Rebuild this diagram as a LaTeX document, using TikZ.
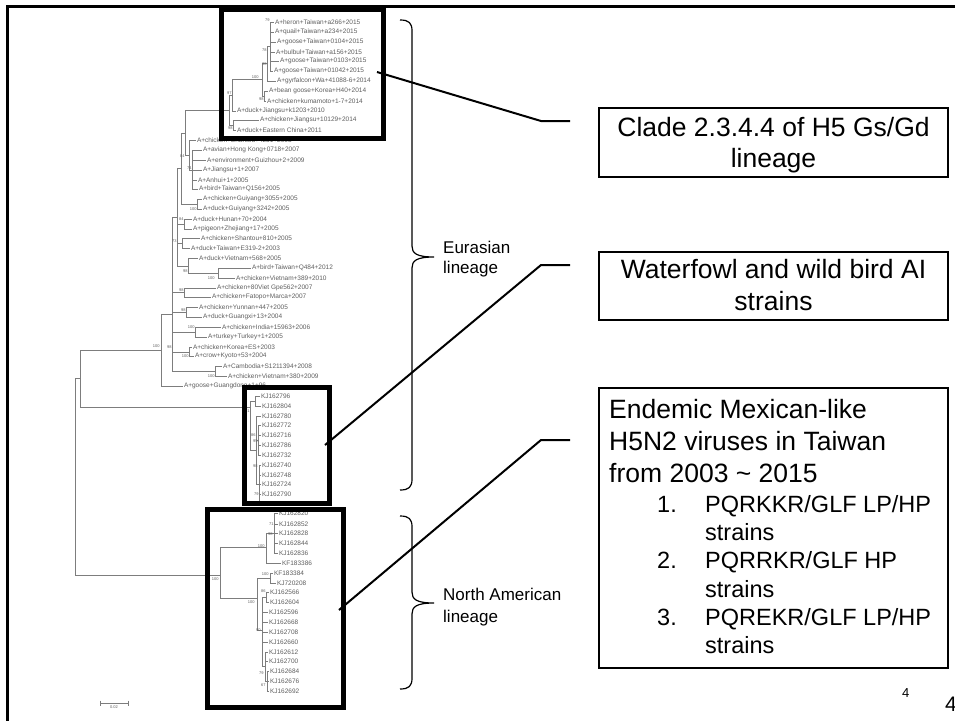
\documentclass[tikz,border=0pt]{standalone}
\usepackage{fontspec}
\setmainfont{Liberation Sans}
\definecolor{treegray}{RGB}{125,125,125}
\definecolor{labgray}{RGB}{95,95,95}
\newcommand{\tleaf}[5]{\draw[br] (#2,#1) -- (#3,#1) node[lbl] (#4) {#5};}
\newcommand{\tvert}[3]{\draw[br] (#1,#2) -- (#1,#3);}
\newcommand{\thor}[3]{\draw[br] (#2,#1) -- (#3,#1);}
\newcommand{\tboot}[4]{\node[bs] (#1) at (#2,#3) {#4};}
\begin{document}
\begin{tikzpicture}[x=1pt,y=-1pt,
  br/.style={draw=treegray, line width=0.9pt},
  lbl/.style={anchor=west, inner sep=0pt, outer sep=0pt, xshift=1pt, font=\fontsize{6.5}{7.5}\selectfont, text=labgray},
  bs/.style={anchor=south east, inner sep=0.3pt, font=\fontsize{4}{4}\selectfont, text=labgray},
  frame/.style={draw=black, line width=5pt},
  tbox/.style={draw=black, line width=2pt, inner sep=0pt, minimum width=349pt},
  conn/.style={draw=black, line width=2pt},
  bracestyle/.style={draw=black, line width=1.2pt},
  big/.style={font=\fontsize{26.5}{31}\selectfont, anchor=base, inner sep=0pt},
  bigw/.style={font=\fontsize{26.5}{31}\selectfont, anchor=base west, inner sep=0pt},
  item/.style={font=\fontsize{23.5}{28}\selectfont, anchor=base west, inner sep=0pt},
  side/.style={font=\fontsize{17}{20}\selectfont, anchor=base west, inner sep=0pt}
]
\useasboundingbox (0,0) rectangle (955,720);
\fill[white] (0,0) rectangle (955,720);

% ---------------- tree: clade 2.3.4.4 ----------------
\tvert{270}{22}{71}
\tleaf{22}{270}{274}{l0}{A+heron+Taiwan+a266+2015}
\tleaf{32}{270}{274}{l1}{A+quail+Taiwan+a234+2015}
\tleaf{42}{270}{276}{l2}{A+goose+Taiwan+0104+2015}
\tleaf{52}{270}{275}{l3}{A+bulbul+Taiwan+a156+2015}
\tleaf{61}{270}{279}{l4}{A+goose+Taiwan+0103+2015}
\tleaf{71}{270}{273}{l5}{A+goose+Taiwan+01042+2015}
\tvert{267}{46}{81}
\thor{46}{267}{270}
\tleaf{81}{267}{276}{l6}{A+gyrfalcon+Wa+41088-6+2014}
\tvert{264}{91}{101}
\tleaf{91}{264}{268}{l7}{A+bean goose+Korea+H40+2014}
\tleaf{101}{264}{266}{l8}{A+chicken+kumamoto+1-7+2014}
\tvert{262}{63}{96}
\thor{63}{262}{267}
\thor{96}{262}{264}
\tvert{232}{79}{111}
\thor{79}{232}{262}
\tleaf{111}{232}{236}{l9}{A+duck+Jiangsu+k1203+2010}
\tvert{233}{120}{130}
\tleaf{120}{233}{259}{l10}{A+chicken+Jiangsu+10129+2014}
\tleaf{130}{233}{236}{l11}{A+duck+Eastern China+2011}
\tvert{229}{95}{125}
\thor{95}{229}{232}
\thor{125}{229}{233}
\thor{110}{185}{229}

% ---------------- tree: rest of Eurasian ----------------
\tvert{185}{110}{155}
\tvert{189}{140}{170}
\thor{155}{185}{189}
\tleaf{140}{189}{196}{l12}{A+chicken+Shantou+4231+2003}
\tvert{192}{150}{189}
\thor{170}{189}{192}
\tleaf{150}{192}{202}{l13}{A+avian+Hong Kong+0718+2007}
\tleaf{160}{192}{206}{l14}{A+environment+Guizhou+2+2009}
\tleaf{170}{192}{202}{l15}{A+Jiangsu+1+2007}
\tleaf{180}{192}{197}{l16}{A+Anhui+1+2005}
\tleaf{189}{192}{198}{l17}{A+bird+Taiwan+Q156+2005}
\tvert{181}{133}{204}
\thor{133}{181}{185}
\thor{204}{181}{197}
\tvert{197}{199}{209}
\tleaf{199}{197}{202}{l18}{A+chicken+Guiyang+3055+2005}
\tleaf{209}{197}{202}{l19}{A+duck+Guiyang+3242+2005}
\tvert{184}{219}{229}
\tleaf{219}{184}{192}{l20}{A+duck+Hunan+70+2004}
\tleaf{229}{184}{192}{l21}{A+pigeon+Zhejiang+17+2005}
\tvert{182}{238}{248}
\tleaf{238}{182}{200}{l22}{A+chicken+Shantou+810+2005}
\tleaf{248}{182}{190}{l23}{A+duck+Taiwan+E319-2+2003}
\tvert{188}{258}{273}
\tleaf{258}{188}{198}{l24}{A+duck+Vietnam+568+2005}
\thor{273}{188}{218}
\tvert{218}{268}{278}
\tleaf{268}{218}{251}{l25}{A+bird+Taiwan+Q484+2012}
\tleaf{278}{218}{235}{l26}{A+chicken+Vietnam+389+2010}
\tvert{177}{168}{266}
\thor{168}{177}{181}
\thor{224}{177}{184}
\thor{243}{177}{182}
\thor{266}{177}{188}
\tvert{172}{217}{371}
\thor{217}{172}{177}
\tvert{184}{288}{297}
\thor{292}{172}{184}
\tleaf{288}{184}{216}{l27}{A+chicken+80Viet Gpe562+2007}
\tleaf{297}{184}{211}{l28}{A+chicken+Fatopo+Marca+2007}
\tvert{186}{307}{317}
\thor{312}{172}{186}
\tleaf{307}{186}{198}{l29}{A+chicken+Yunnan+447+2005}
\tleaf{317}{186}{202}{l30}{A+duck+Guangxi+13+2004}
\tvert{195}{327}{337}
\thor{332}{172}{195}
\tleaf{327}{195}{221}{l31}{A+chicken+India+15963+2006}
\tleaf{337}{195}{207}{l32}{A+turkey+Turkey+1+2005}
\tvert{189}{347}{356}
\thor{352}{172}{189}
\tleaf{347}{189}{192}{l33}{A+chicken+Korea+ES+2003}
\tleaf{356}{189}{194}{l34}{A+crow+Kyoto+53+2004}
\tvert{215}{366}{376}
\thor{371}{172}{215}
\tleaf{366}{215}{222}{l35}{A+Cambodia+S1211394+2008}
\tleaf{376}{215}{227}{l36}{A+chicken+Vietnam+380+2009}
\tvert{161}{314}{386}
\thor{314}{161}{172}
\tleaf{386}{161}{183}{l37}{A+goose+Guangdong+1+96}
\tvert{80}{350}{407}
\thor{350}{80}{161}
\tvert{75}{378}{575}
\thor{378}{75}{80}

% ---------------- tree: waterfowl / wild bird ----------------
\thor{407}{80}{250}
\tvert{250}{401}{450}
\tvert{255}{396}{406}
\thor{401}{250}{255}
\tleaf{396}{255}{260}{l38}{KJ162796}
\tleaf{406}{255}{261}{l39}{KJ162804}
\tvert{256}{416}{484}
\thor{450}{250}{256}
\tleaf{416}{256}{261}{l40}{KJ162780}
\tvert{258}{425}{455}
\thor{440}{256}{258}
\tleaf{425}{258}{261}{l41}{KJ162772}
\tleaf{435}{258}{261}{l42}{KJ162716}
\tleaf{445}{258}{261}{l43}{KJ162786}
\tleaf{455}{258}{261}{l44}{KJ162732}
\tvert{259}{465}{504}
\thor{484}{256}{259}
\tleaf{465}{259}{261}{l45}{KJ162740}
\tleaf{475}{259}{261}{l46}{KJ162748}
\tleaf{484}{259}{261}{l47}{KJ162724}
\tleaf{494}{259}{261}{l48}{KJ162790}
\tleaf{504}{259}{261}{l49}{KJ162764}

% ---------------- tree: North American ----------------
\thor{575}{75}{220}
\tvert{220}{547}{598}
\thor{547}{220}{266}
\tvert{266}{533}{563}
\thor{533}{266}{274}
\tvert{274}{513}{553}
\tleaf{513}{274}{278}{l50}{KJ162820}
\tleaf{524}{274}{278}{l51}{KJ162852}
\tleaf{533}{274}{278}{l52}{KJ162828}
\tleaf{543}{274}{278}{l53}{KJ162844}
\tleaf{553}{274}{278}{l54}{KJ162836}
\tleaf{563}{266}{281}{l55}{KF183386}
\thor{598}{220}{257}
\tvert{257}{578}{630}
\thor{578}{257}{270}
\tvert{270}{573}{583}
\tleaf{573}{270}{273}{l56}{KF183384}
\tleaf{583}{270}{276}{l57}{KJ720208}
\thor{630}{257}{262}
\tvert{262}{597}{666}
\thor{597}{262}{266}
\tvert{266}{592}{602}
\tleaf{592}{266}{269}{l58}{KJ162566}
\tleaf{602}{266}{269}{l59}{KJ162604}
\tleaf{612}{262}{268}{l60}{KJ162596}
\tleaf{622}{262}{268}{l61}{KJ162668}
\tleaf{632}{262}{268}{l62}{KJ162708}
\tleaf{642}{262}{268}{l63}{KJ162660}
\thor{666}{262}{265}
\tvert{265}{652}{681}
\tleaf{652}{265}{268}{l64}{KJ162612}
\tleaf{661}{265}{268}{l65}{KJ162700}
\thor{681}{265}{267}
\tvert{267}{671}{691}
\tleaf{671}{267}{269}{l66}{KJ162684}
\tleaf{681}{267}{269}{l67}{KJ162676}
\tleaf{691}{267}{269}{l68}{KJ162692}

% ---------------- bootstrap values ----------------
\tboot{bs1}{270}{22}{79}
\tboot{bs2}{267}{52}{78}
\tboot{bs3}{267}{66}{98}
\tboot{bs4}{259}{79}{100}
\tboot{bs5}{264}{101}{98}
\tboot{bs6}{232}{95}{97}
\tboot{bs7}{233}{130}{98}
\tboot{bs8}{185}{158}{84}
\tboot{bs9}{192}{170}{74}
\tboot{bs10}{197}{211}{100}
\tboot{bs11}{184}{221}{84}
\tboot{bs12}{177}{243}{73}
\tboot{bs13}{188}{273}{98}
\tboot{bs14}{215}{280}{100}
\tboot{bs15}{184}{292}{98}
\tboot{bs16}{186}{312}{98}
\tboot{bs17}{195}{329}{100}
\tboot{bs18}{172}{349}{98}
\tboot{bs19}{189}{358}{100}
\tboot{bs20}{215}{378}{100}
\tboot{bs21}{160}{348}{100}
\tboot{bs22}{250}{413}{91}
\tboot{bs23}{256}{437}{86}
\tboot{bs24}{258}{443}{95}
\tboot{bs25}{258}{468}{98}
\tboot{bs26}{259}{496}{79}
\tboot{bs27}{219}{581}{100}
\tboot{bs28}{265}{548}{100}
\tboot{bs29}{273}{536}{98}
\tboot{bs30}{274}{526}{71}
\tboot{bs31}{269}{576}{100}
\tboot{bs32}{266}{593}{86}
\tboot{bs33}{255}{604}{100}
\tboot{bs34}{261}{632}{90}
\tboot{bs35}{264}{675}{79}
\tboot{bs36}{266}{687}{67}

% scale bar
\draw[br] (100,703) -- (128,703);
\draw[br] (100,700.5) -- (100,705.5);
\draw[br] (128,700.5) -- (128,705.5);
\node[bs, anchor=north] (scl) at (114,705) {0.02};

% ---------------- slide border ----------------
\draw[line width=2.5pt] (7.5,722) -- (7.5,6.5) -- (957,6.5);

% ---------------- highlight frames ----------------
\draw[frame] (221,9) rectangle (383,138);
\draw[frame] (244,387) rectangle (329,503);
\draw[frame] (207,509) rectangle (343,707);

% ---------------- braces ----------------
\draw[bracestyle] (400,20) .. controls (409,20) and (412,23) .. (412,31) -- (412,246)
  .. controls (412,253) and (416,257) .. (434,257)
  .. controls (416,257) and (412,261) .. (412,268) -- (412,479)
  .. controls (412,487) and (409,490) .. (400,490);
\draw[bracestyle] (400,516) .. controls (409,516) and (412,519) .. (412,527) -- (412,592)
  .. controls (412,599) and (416,603) .. (434,603)
  .. controls (416,603) and (412,607) .. (412,614) -- (412,678)
  .. controls (412,686) and (409,689) .. (400,689);
\node[side] (eu1) at (443,253) {Eurasian};
\node[side] (eu2) at (443,273) {lineage};
\node[side] (na1) at (443,600) {North American};
\node[side] (na2) at (443,622) {lineage};

% ---------------- text boxes ----------------
\node[tbox, minimum height=69pt] (box1) at (773.5,142.5) {};
\node[big] (t1a) at (773.5,136) {Clade 2.3.4.4 of H5 Gs/Gd};
\node[big] (t1b) at (773.5,167) {lineage};

\node[tbox, minimum height=68pt] (box2) at (773.5,286) {};
\node[big] (t2a) at (773.5,278) {Waterfowl and wild bird AI};
\node[big] (t2b) at (773.5,310) {strains};

\node[tbox, minimum height=280pt] (box3) at (773.5,528) {};
\node[bigw] (t3a) at (609,418) {Endemic Mexican-like};
\node[bigw] (t3b) at (609,450) {H5N2 viruses in Taiwan};
\node[bigw] (t3c) at (609,482) {from 2003 \textasciitilde{} 2015};
\node[item] (n1) at (657,512) {1.};
\node[item] (i1a) at (705,512) {PQRKKR/GLF LP/HP};
\node[item] (i1b) at (705,540) {strains};
\node[item] (n2) at (657,568) {2.};
\node[item] (i2a) at (705,568) {PQRRKR/GLF HP};
\node[item] (i2b) at (705,597) {strains};
\node[item] (n3) at (657,625) {3.};
\node[item] (i3a) at (705,625) {PQREKR/GLF LP/HP};
\node[item] (i3b) at (705,653) {strains};

% ---------------- connectors ----------------
\coordinate (k1a) at (570,121);
\coordinate (k1b) at (541,121);
\coordinate (k1c) at (377,72);
\coordinate (k2a) at (570,265);
\coordinate (k2b) at (541,265);
\coordinate (k2c) at (325,445);
\coordinate (k3a) at (570,440);
\coordinate (k3b) at (541,440);
\coordinate (k3c) at (339,610);
\draw[conn] (k1a) -- (k1b) -- (k1c);
\draw[conn] (k2a) -- (k2b) -- (k2c);
\draw[conn] (k3a) -- (k3b) -- (k3c);

% ---------------- page numbers ----------------
\node[font=\fontsize{13}{15}\selectfont, anchor=base west, inner sep=0pt] (pg1) at (902,697) {4};
\node[font=\fontsize{21}{24}\selectfont, anchor=base west, inner sep=0pt] (pg2) at (945,711) {4};
\end{tikzpicture}
\end{document}
